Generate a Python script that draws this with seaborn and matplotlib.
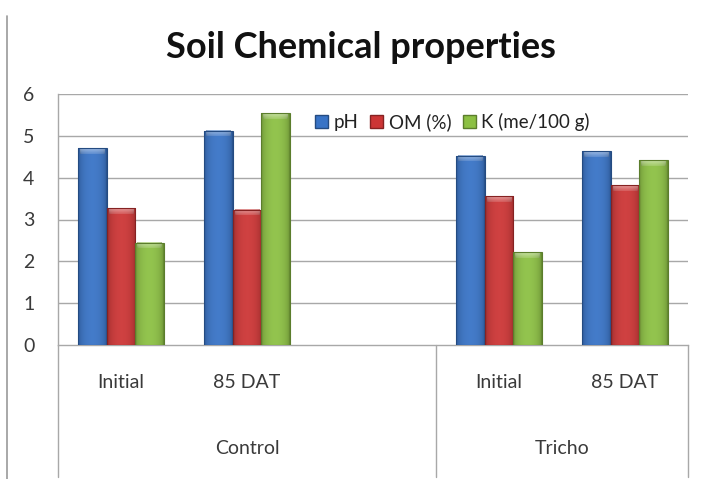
import numpy as np
import pandas as pd
import matplotlib
matplotlib.use("Agg")
import matplotlib.pyplot as plt
from matplotlib.colors import to_rgb
from matplotlib.lines import Line2D
from matplotlib.patches import Patch
from matplotlib.transforms import blended_transform_factory
import seaborn as sns

# Soil measurements per treatment and sampling stage
treatments = ["Control", "Control", "Tricho", "Tricho"]
stages = ["Initial", "85 DAT", "Initial", "85 DAT"]
ph_values = [4.70, 5.12, 4.52, 4.63]
om_values = [3.27, 3.23, 3.56, 3.82]
k_values = [2.45, 5.54, 2.22, 4.42]
series_names = ["pH", "OM (%)", "K (me/100 g)"]
series_colors = ["#3873c6", "#cc3535", "#8cc043"]
yticks = [0, 1, 2, 3, 4, 5, 6]

# Category slots along the x axis (the Control group keeps one empty slot)
slot_order = ["Control|Initial", "Control|85 DAT", "Control|",
              "Tricho|Initial", "Tricho|85 DAT"]

rows = []
for t, s, a, b, c in zip(treatments, stages, ph_values, om_values, k_values):
    for name, v in zip(series_names, (a, b, c)):
        rows.append({"slot": f"{t}|{s}", "series": name, "value": v})
df = pd.DataFrame(rows)

sns.set_theme(style="white")
plt.rcParams["font.family"] = ["Lato", "DejaVu Sans"]

W, H = 706, 479
fig = plt.figure(figsize=(W / 100, H / 100), dpi=100)
fig.patch.set_facecolor("white")
L, R, T, B = 58, 688, 94, 345
ax = fig.add_axes([L / W, 1 - B / H, (R - L) / W, (B - T) / H])

sns.barplot(data=df, x="slot", y="value", hue="series", order=slot_order,
            hue_order=series_names, palette=series_colors, width=0.68,
            saturation=1, ax=ax, legend=False, zorder=3)

ax.set_ylim(0, 6)
ax.set_xlim(-0.5, len(slot_order) - 0.5)
ax.set_yticks(yticks)
ax.set_yticklabels([str(v) for v in yticks])
ax.set_xticks([])
ax.set_xlabel("")
ax.set_ylabel("")
ax.tick_params(axis="y", length=0, pad=17, labelsize=14, labelcolor="#3a3a3a")
for y in yticks[1:]:
    ax.axhline(y, color="#a8a8a8", lw=1.0, zorder=1)
for side in ("top", "right"):
    ax.spines[side].set_visible(False)
for side in ("left", "bottom"):
    ax.spines[side].set_color("#a8a8a8")
    ax.spines[side].set_linewidth(1.0)


def shaded(color, n=64):
    base = np.array(to_rgb(color))
    t = np.linspace(0, 1, n)
    s = np.sin(np.pi * t) ** 0.35
    light = 0.06 * s
    dark = 0.35 * (1 - s)
    rgb = base[None, :] * (1 - dark[:, None]) + (1 - base[None, :]) * light[:, None]
    return np.clip(rgb, 0, 1)


# Bevelled, gradient-filled bars
cap = 0.13
for patch in list(ax.patches):
    x, w, h = patch.get_x(), patch.get_width(), patch.get_height()
    if h <= 0 or np.isnan(h):
        continue
    col = patch.get_facecolor()[:3]
    prof = shaded(col)
    im = ax.imshow(prof[None, :, :], extent=(x, x + w, 0, h), aspect="auto",
                   interpolation="bilinear", zorder=4)
    im.set_clip_path(patch)
    # lighter cap across the top of each bar
    nv = 16
    top = np.zeros((nv, 64, 3))
    for i in range(nv):
        f = 0.35 * (1 - i / nv) + 0.12
        top[i] = prof + (1 - prof) * f
    ax.imshow(top, extent=(x + w * 0.07, x + w * 0.93, h - cap, h),
              aspect="auto", interpolation="bilinear", zorder=5)
    patch.set_edgecolor(tuple(np.array(col) * 0.65))
    patch.set_linewidth(0.8)
    patch.set_zorder(6)
    patch.set_facecolor("none")

# Two-level category axis drawn below the plot
tr = blended_transform_factory(ax.transData, ax.transAxes)
y_bot = (B - 477) / (B - T)
line_kw = dict(color="#a8a8a8", lw=1.0, clip_on=False)
ax.plot([-0.5, -0.5], [0, y_bot], transform=tr, **line_kw)
ax.plot([4.5, 4.5], [0, y_bot], transform=tr, **line_kw)
ax.plot([2.5, 2.5], [0, y_bot], transform=tr, **line_kw)

y_stage = (B - 383) / (B - T)
y_group = (B - 448) / (B - T)
for i, s in enumerate(slot_order):
    label = s.split("|")[1]
    if label:
        ax.text(i, y_stage, label, transform=tr, ha="center", va="center",
                fontsize=14, color="#3a3a3a")
ax.text(1.0, y_group, "Control", transform=tr, ha="center", va="center",
        fontsize=14, color="#3a3a3a")
ax.text(3.5, y_group, "Tricho", transform=tr, ha="center", va="center",
        fontsize=14, color="#3a3a3a")

# Legend
handles = [Patch(facecolor=c, edgecolor=tuple(np.array(to_rgb(c)) * 0.65), label=n)
           for n, c in zip(series_names, series_colors)]
ax.legend(handles=handles, loc="center", bbox_to_anchor=(0.626, 0.888),
          ncol=3, frameon=False, handlelength=0.7, handleheight=0.7,
          handletextpad=0.3, columnspacing=0.6, fontsize=13.5,
          labelcolor="#222222", borderaxespad=0)

# Title and chart border line
fig.text(0.511, 1 - 47 / H, "Soil Chemical properties", ha="center",
         va="center", fontsize=26, fontweight="bold", color="#111111")
fig.add_artist(Line2D([7 / W, 7 / W], [0, 1 - 16 / H], color="#999999", lw=1.2))

fig.savefig("out.png", dpi=100, facecolor="white")
